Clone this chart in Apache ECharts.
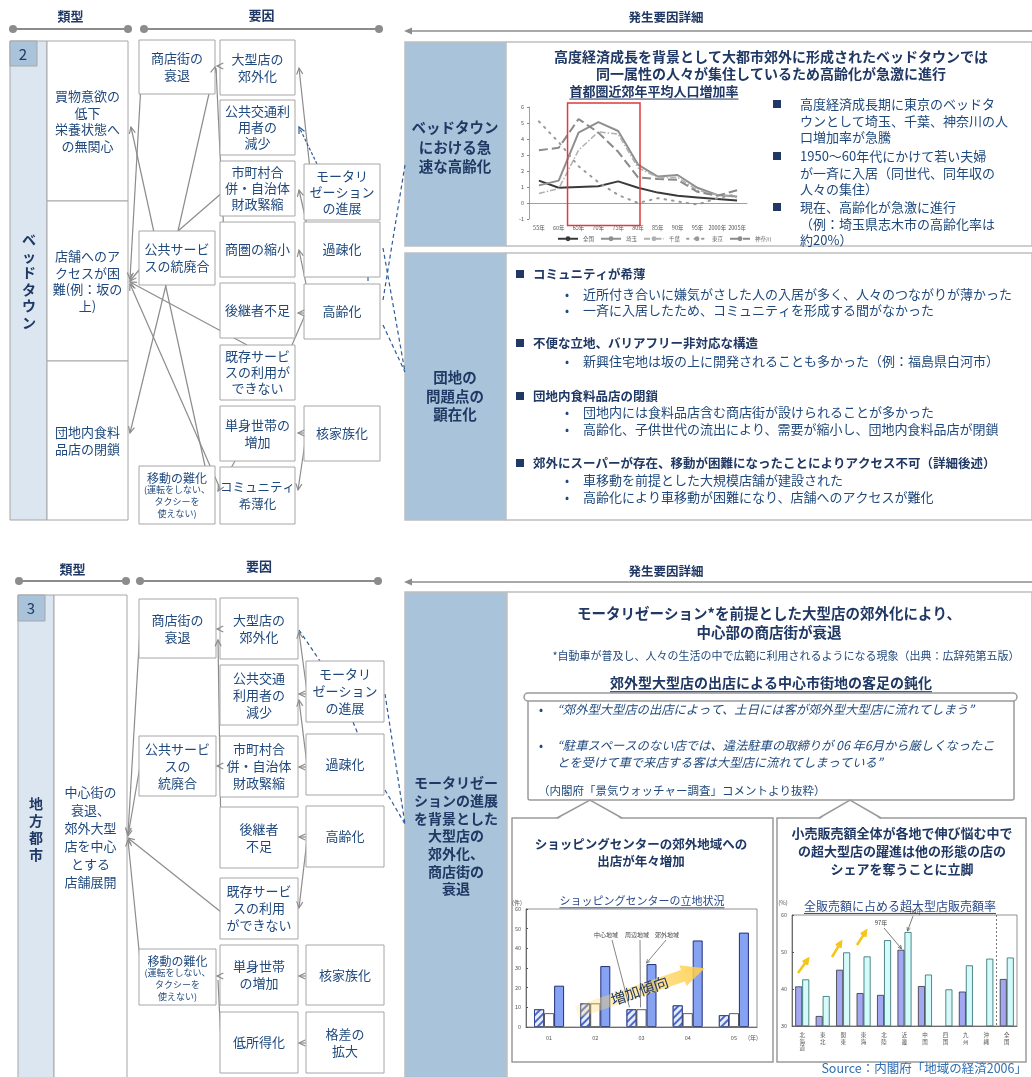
<!DOCTYPE html>
<html><head><meta charset="utf-8">
<script src="https://cdn.jsdelivr.net/npm/echarts@6/dist/echarts.min.js"></script>
<style>html,body{margin:0;padding:0;background:#fff}#c{width:1032px;height:1077px}</style>
</head><body><div id="c"></div>
<script>
// ---------------- DATA ----------------
const lineYears = ['55年','60年','65年','70年','75年','80年','85年','90年','95年','2000年','2005年'];
const popZenkoku  = [1.4,0.95,1.0,1.05,1.35,0.95,0.65,0.45,0.35,0.25,0.15];
const popSaitama  = [1.1,1.4,4.4,5.05,4.5,2.4,1.65,1.75,0.95,0.5,0.4];
const popChiba    = [0.6,0.9,3.3,4.45,4.3,2.2,1.6,1.6,0.8,0.5,0.35];
const popTokyo    = [5.1,3.8,2.3,1.3,0.5,0.0,0.3,0.1,-0.1,0.3,0.55];
const popKanagawa = [3.3,3.45,5.25,4.4,3.2,1.6,1.5,1.45,0.7,0.45,0.8];
const lineNames = ['全国','埼玉','千葉','東京','神奈川'];

const scYears   = ['01','02','03','04','05'];
const scCenter  = [9,12,9,11,6];
const scPeriph  = [7,12,9,7,7];
const scSuburb  = [21,31,32,44,48];
const scNames   = ['中心地域','周辺地域','郊外地域'];

const regions    = ['北海道','東北','関東','東海','北陸','近畿','中国','四国','九州','沖縄','全国'];
const shareEarly = [40.7,32.7,45.2,38.9,38.4,50.6,40.8,null,39.3,null,42.7];
const shareLate  = [42.6,38.1,49.9,48.8,53.2,55.4,43.9,39.9,46.4,48.2,48.5];
const shareNames = ['97年','04年'];

// ---------------- STYLE ----------------
const F = '"Noto Sans CJK JP","Noto Sans CJK SC",sans-serif';
const NAVY = '#1F3864', TXT = '#1F497D', GR = '#8C8C8C', BOX = '#A6A6A6';
const LBL = '#A9C4DA', LIGHT = '#DCE6F0', BLUE = '#2E5C9A';
function font(s,b,i){return (i?'italic ':'')+(b?'bold ':'')+s+'px '+F;}
const mctx = document.createElement('canvas').getContext('2d');
function tw(t,f){mctx.font=f;return mctx.measureText(t).width;}

const chart = echarts.init(document.getElementById('c'));
const axLbl = {fontSize:5.5,color:'#555',fontFamily:F};
const ZA = 8;
chart.setOption({
  animation:false, backgroundColor:'#fff',
  grid:[
    {left:529,top:107,width:218,height:112,z:ZA},
    {left:526,top:909,width:231,height:118,show:true,borderColor:'#777',borderWidth:0.8,backgroundColor:'transparent',z:ZA},
    {left:792,top:915,width:225,height:111,show:true,borderColor:'#777',borderWidth:0.8,backgroundColor:'transparent',z:ZA}
  ],
  xAxis:[
    {gridIndex:0,z:ZA,type:'category',data:lineYears,axisLine:{onZero:true,lineStyle:{color:'#888',width:0.8}},axisTick:{show:false},axisLabel:Object.assign({interval:0,margin:6},axLbl)},
    {gridIndex:1,z:ZA,type:'category',data:scYears,axisLine:{lineStyle:{color:'#555',width:0.8}},axisTick:{show:false},axisLabel:Object.assign({interval:0,margin:8,fontSize:6},axLbl)},
    {gridIndex:2,z:ZA,type:'category',data:regions,axisLine:{lineStyle:{color:'#555',width:0.8}},axisTick:{show:false},axisLabel:Object.assign({interval:0,margin:6,lineHeight:6.5,verticalAlign:'top',formatter:v=>v.split('').join('\n')},axLbl)}
  ],
  yAxis:[
    {gridIndex:0,z:ZA,min:-1,max:6,interval:1,axisLine:{show:true,lineStyle:{color:'#888',width:0.8}},axisTick:{show:true,length:2},splitLine:{show:false},axisLabel:Object.assign({margin:5},axLbl)},
    {gridIndex:1,z:ZA,min:0,max:60,interval:10,axisLine:{show:true,lineStyle:{color:'#555',width:0.8}},axisTick:{show:true,inside:true,length:2},splitLine:{show:false},axisLabel:Object.assign({margin:5},axLbl)},
    {gridIndex:2,z:ZA,min:30,max:60,interval:10,axisLine:{show:true,lineStyle:{color:'#555',width:0.8}},axisTick:{show:true,inside:true,length:2},splitLine:{show:false},axisLabel:Object.assign({margin:5},axLbl)}
  ],
  legend:{data:lineNames,z:ZA,left:552,top:231,itemWidth:20,itemHeight:6,itemGap:6,textStyle:{fontSize:5.5,color:'#666',fontFamily:F}},
  series:[
    {name:lineNames[0],type:'line',data:popZenkoku,symbol:'none',z:7,lineStyle:{color:'#3a3a3a',width:2},itemStyle:{color:'#3a3a3a'}},
    {name:lineNames[1],type:'line',data:popSaitama,symbol:'none',z:7,lineStyle:{color:'#8f8f8f',width:2},itemStyle:{color:'#8f8f8f'}},
    {name:lineNames[2],type:'line',data:popChiba,symbol:'none',z:7,lineStyle:{color:'#b0b0b0',width:1.5,type:[6,2,1.5,2]},itemStyle:{color:'#b0b0b0'}},
    {name:lineNames[3],type:'line',data:popTokyo,symbol:'none',z:7,lineStyle:{color:'#9a9a9a',width:2,type:[1.5,6],cap:'round'},itemStyle:{color:'#9a9a9a'}},
    {name:lineNames[4],type:'line',data:popKanagawa,symbol:'none',z:7,lineStyle:{color:'#8a8a8a',width:2,type:[9,4]},itemStyle:{color:'#8a8a8a'}},
    {name:scNames[0],type:'bar',xAxisIndex:1,yAxisIndex:1,data:scCenter,barWidth:10,barGap:'0%',z:7,
      itemStyle:{color:'#e8edfb',borderColor:'#2b3f8c',borderWidth:0.8,decal:{symbol:'rect',symbolSize:1,dashArrayX:[1,0],dashArrayY:[1.2,2.4],rotation:-Math.PI/4,color:'#4a68c8'}}},
    {name:scNames[1],type:'bar',xAxisIndex:1,yAxisIndex:1,data:scPeriph,barWidth:10,barGap:'0%',z:7,itemStyle:{color:'#ffffff',borderColor:'#333',borderWidth:0.8}},
    {name:scNames[2],type:'bar',xAxisIndex:1,yAxisIndex:1,data:scSuburb,barWidth:10,barGap:'0%',z:7,itemStyle:{color:'#86a2f2',borderColor:'#22307a',borderWidth:1}},
    {name:shareNames[0],type:'bar',xAxisIndex:2,yAxisIndex:2,data:shareEarly,barWidth:7,barGap:'0%',z:7,itemStyle:{color:'#a3a6f0',borderColor:'#333',borderWidth:0.8}},
    {name:shareNames[1],type:'bar',xAxisIndex:2,yAxisIndex:2,data:shareLate,barWidth:7,barGap:'0%',z:7,itemStyle:{color:'#d5fafa',borderColor:'#2a6a6a',borderWidth:0.8}}
  ]
});

// ---------------- GRAPHICS ----------------
const G = [];
function T(x,y,t,o={}){G.push({type:'text',x,y,z:o.z??4,rotation:o.rot||0,silent:true,style:{text:t,fill:o.c||TXT,font:font(o.s||13,o.b,o.i),align:o.a||'center',verticalAlign:o.v||'middle',lineHeight:o.lh||Math.round((o.s||13)*1.3)}});}
function R(x1,y1,x2,y2,o={}){G.push({type:'rect',z:o.z??2,silent:true,shape:{x:x1,y:y1,width:x2-x1,height:y2-y1,r:o.r||0},style:{fill:o.f??'#fff',stroke:o.st??BOX,lineWidth:o.lw??1}});}
function L(x1,y1,x2,y2,o={}){G.push({type:'line',z:o.z??1,silent:true,shape:{x1,y1,x2,y2},style:{stroke:o.c||GR,lineWidth:o.lw||1.2,lineDash:o.d||null}});}
function AH(x1,y1,x2,y2,o={}){const d=Math.atan2(y2-y1,x2-x1),s=o.hs||7,p=0.45;
  G.push({type:'polyline',z:o.z??3,silent:true,shape:{points:[[x2-s*Math.cos(d-p),y2-s*Math.sin(d-p)],[x2,y2],[x2-s*Math.cos(d+p),y2-s*Math.sin(d+p)]]},style:{stroke:o.c||GR,lineWidth:o.lw||1.2,fill:null}});}
function A(x1,y1,x2,y2,o={}){L(x1,y1,x2,y2,o);AH(x1,y1,x2,y2,o);}
function D(x1,y1,x2,y2){L(x1,y1,x2,y2,{c:BLUE,lw:1.2,d:[4,3]});}
function B(x1,y1,x2,y2,t,o={}){R(x1,y1,x2,y2);T((x1+x2)/2,(y1+y2)/2,t,{s:o.s||13,lh:o.lh||17});}
function C(x,y){G.push({type:'circle',z:2,silent:true,shape:{cx:x,cy:y,r:4},style:{fill:GR}});}
function HDR(x1,x2,y,t,ty){L(x1,y,x2,y,{lw:2});C(x1,y);C(x2,y);T((x1+x2)/2,ty,t,{b:true,s:13,c:NAVY});}
function DET(y,ty){L(408,y,1032,y,{lw:1.5});G.push({type:'polygon',z:3,silent:true,shape:{points:[[404,y],[412,y-3.5],[412,y+3.5]]},style:{fill:GR}});T(666,ty,'発生要因詳細',{b:true,s:12.5,c:NAVY});}
function UL(x,y,t,s,b,c){const w=tw(t,font(s,b));T(x,y,t,{s,b,c});L(x-w/2,y+s*0.62,x+w/2,y+s*0.62,{c:c,lw:1,z:4});}
function MOVE(x1,y1,x2,y2){R(x1,y1,x2,y2);const cx=(x1+x2)/2;T(cx,y1+12,'移動の難化',{s:12});T(cx,y1+36,'(運転をしない、\nタクシーを\n使えない)',{s:9,lh:12});}

// ===== TOP SECTION =====
HDR(13,128,29,'類型',16);
HDR(144,379,29,'要因',15);
DET(31,17);
R(10,41,47,520,{f:LIGHT});
R(10,41,37,66,{f:LBL,z:3});
T(23,54,'2',{s:15,c:NAVY,z:4});
T(29,281,'ベ\nッ\nド\nタ\nウ\nン',{b:true,s:14,lh:16.5,c:NAVY});
B(47,41,128,201,'買物意欲の\n低下\n栄養状態へ\nの無関心',{lh:16.5});
B(47,201,128,361,'店舗へのア\nクセスが困\n難(例：坂の\n上)',{lh:16.5});
B(47,361,128,520,'団地内食料\n品店の閉鎖',{lh:17});
A(205,466,131,127);
A(142,66,130,279);
A(139,270,130,281);
A(247,345,130,282);
A(222,493,130,284);
A(166,285,130,433);
A(178,231,215,67);
L(223,192,178,231);
A(221,66,217,66);
L(224,236,216,68);
A(312,188,299,68);
A(317,164,299,127,{c:BLUE,d:[3,2]});
A(312,247,299,190);
A(312,313,299,250);
A(305,313,298,313);
L(305,315,292,345);
A(305,433,298,433);
A(306,436,298,490);
A(235,461,218,491);
D(383,300,405,165);
D(383,248,405,372);
D(383,325,405,372);
D(368,277,368,284);
B(139,40,215,94,'商店街の\n衰退');
B(139,231,215,285,'公共サービ\nスの統廃合');
MOVE(139,466,215,524);
B(220,40,295,95,'大型店の\n郊外化');
B(220,100,295,155,'公共交通利\n用者の\n減少',{lh:16});
B(220,161,295,216,'市町村合\n併・自治体\n財政緊縮',{lh:16});
B(220,222,295,277,'商圏の縮小');
B(220,283,295,338,'後継者不足');
B(220,345,295,400,'既存サービ\nスの利用が\nできない',{lh:16});
B(220,406,295,461,'単身世帯の\n増加');
B(220,467,295,524,'コミュニティ\n希薄化',{s:12.5});
B(304,164,380,220,'モータリ\nゼーション\nの進展',{lh:16});
B(304,222,380,277,'過疎化');
B(304,284,380,339,'高齢化');
B(304,406,380,461,'核家族化');

R(405,42,506,246,{f:LBL,st:'#bfbfbf',lw:1.5,z:0});
R(506,42,1032,246,{st:'#bfbfbf',lw:1.5,z:0});
T(455,147,'ベッドタウン\nにおける急\n速な高齢化',{b:true,s:14.5,lh:19.5,c:NAVY});
T(771,57,'高度経済成長を背景として大都市郊外に形成されたベッドタウンでは',{b:true,s:14,c:NAVY});
T(771,74,'同一属性の人々が集住しているため高齢化が急激に進行',{b:true,s:14,c:NAVY});
UL(654,91,'首都圏近郊年平均人口増加率',13,true,NAVY);
[[104,'高度経済成長期に東京のベッドタ\nウンとして埼玉、千葉、神奈川の人\n口増加率が急騰'],
 [156,'1950～60年代にかけて若い夫婦\nが一斉に入居（同世代、同年収の\n人々の集住）'],
 [207,'現在、高齢化が急激に進行\n（例：埼玉県志木市の高齢化率は\n約20%）']].forEach(([y,t])=>{
  T(777,y,'■',{s:10,c:NAVY});
  T(800,y-8,t,{s:13,a:'left',v:'top',lh:16.6});
});
R(405,253,506,520,{f:LBL,st:'#bfbfbf',lw:1.5,z:0});
R(506,253,1032,520,{st:'#bfbfbf',lw:1.5,z:0});
T(455,396,'団地の\n問題点の\n顕在化',{b:true,s:14.5,lh:18.5,c:NAVY});
[[274,'コミュニティが希薄',[[294,'近所付き合いに嫌気がさした人の入居が多く、人々のつながりが薄かった'],[310,'一斉に入居したため、コミュニティを形成する間がなかった']]],
 [343,'不便な立地、バリアフリー非対応な構造',[[361,'新興住宅地は坂の上に開発されることも多かった（例：福島県白河市）']]],
 [396,'団地内食料品店の閉鎖',[[412,'団地内には食料品店含む商店街が設けられることが多かった'],[429,'高齢化、子供世代の流出により、需要が縮小し、団地内食料品店が閉鎖']]],
 [463,'郊外にスーパーが存在、移動が困難になったことによりアクセス不可（詳細後述）',[[480,'車移動を前提とした大規模店舗が建設された'],[497,'高齢化により車移動が困難になり、店舗へのアクセスが難化']]]
].forEach(([y,h,items])=>{
  T(520,y,'■',{s:10,c:NAVY});
  T(533,y,h,{s:12.5,b:true,a:'left',c:NAVY});
  items.forEach(([yy,t])=>{T(567,yy,'•',{s:12});T(583,yy,t,{s:13,a:'left'});});
});

const p65 = chart.convertToPixel({gridIndex:0},['65年',6.25]);
const p80 = chart.convertToPixel({gridIndex:0},['80年',-1.4]);
G.push({type:'rect',z:10,silent:true,shape:{x:p65[0]-11,y:p65[1],width:p80[0]+2-(p65[0]-11),height:p80[1]-p65[1]},style:{fill:null,stroke:'#E03A3A',lineWidth:1.5}});

// ===== BOTTOM SECTION =====
HDR(19,126,581,'類型',569);
HDR(140,378,581,'要因',566);
DET(582,571);
R(18,595,54,1080,{f:LIGHT});
R(18,595,45,621,{f:LBL,z:3});
T(31,608,'3',{s:15,c:NAVY,z:4});
T(36,829,'地\n方\n都\n市',{b:true,s:14,lh:17,c:NAVY});
B(54,595,127,1080,'中心街の\n衰退、\n郊外大型\n店を中心\nとする\n店舗展開',{lh:18});
A(140,629,128,834);
A(140,766,128,836);
A(221,912,128,838);
A(140,960,128,840);
A(221,629,217,629);
A(221,838,218,640);
A(221,766,217,766);
A(221,976,217,976);
L(221,1043,218,980);
A(307,692,299,632);
A(307,694,299,694);
A(307,765,299,700);
A(307,767,299,767);
A(307,837,299,837);
A(307,840,299,908);
A(307,976,299,976);
A(307,1043,299,1043);
D(299,630,320,661);
D(353,722,358,734);
D(385,694,405,824);
D(385,790,405,824);
B(139,599,216,658,'商店街の\n衰退');
B(139,736,216,796,'公共サービ\nスの\n統廃合');
MOVE(139,949,216,1005);
B(220,598,298,659,'大型店の\n郊外化');
B(220,665,298,725,'公共交通\n利用者の\n減少');
B(220,736,298,797,'市町村合\n併・自治体\n財政緊縮');
B(220,807,298,868,'後継者\n不足');
B(220,878,298,939,'既存サービ\nスの利用\nができない');
B(220,945,298,1005,'単身世帯\nの増加');
B(220,1012,298,1073,'低所得化');
B(306,661,384,722,'モータリ\nゼーション\nの進展');
B(306,734,384,795,'過疎化');
B(306,806,384,867,'高齢化');
B(306,945,384,1005,'核家族化');
B(306,1012,384,1073,'格差の\n拡大');

R(405,592,507,1080,{f:LBL,st:'#bfbfbf',lw:1.5,z:0});
R(507,592,1032,1080,{st:'#bfbfbf',lw:1.5,z:0});
T(456,836,'モータリゼー\nションの進展\nを背景とした\n大型店の\n郊外化、\n商店街の\n衰退',{b:true,s:14,lh:17.7,c:NAVY});
T(769,613,'モータリゼーション*を前提とした大型店の郊外化により、',{b:true,s:14.5,c:NAVY});
T(769,632,'中心部の商店街が衰退',{b:true,s:14.5,c:NAVY});
T(786,656,'*自動車が普及し、人々の生活の中で広範に利用されるようになる現象（出典：広辞苑第五版）',{s:11});
UL(771,683,'郊外型大型店の出店による中心市街地の客足の鈍化',14,true,NAVY);
R(528,698,1014,800,{st:'#9a9a9a',lw:1.5,r:2,z:1});
R(524,693,1017,701,{st:'#9a9a9a',lw:1.5,r:4,z:2});
T(541,709,'•',{s:12});
T(557,709,'“郊外型大型店の出店によって、土日には客が郊外型大型店に流れてしまう”',{s:12.3,i:true,a:'left'});
T(541,745,'•',{s:12});
T(557,745,'“駐車スペースのない店では、違法駐車の取締りが 06 年6月から厳しくなったこ',{s:12.3,i:true,a:'left'});
T(557,762,'とを受けて車で来店する客は大型店に流れてしまっている”',{s:12.3,i:true,a:'left'});
T(538,791,'（内閣府「景気ウォッチャー調査」コメントより抜粋）',{s:11.5,a:'left'});
R(512,818,773,1062,{st:'#9a9a9a',lw:1.5,z:1});
R(777,818,1026,1062,{st:'#9a9a9a',lw:1.5,z:1});
[[557,590,622],[819,850,881]].forEach(([a,b,c])=>{
  G.push({type:'polygon',z:2,silent:true,shape:{points:[[a,819.5],[b,800],[c,819.5]]},style:{fill:'#fff',stroke:null}});
  G.push({type:'polyline',z:3,silent:true,shape:{points:[[a,818],[b,800],[c,818]]},style:{stroke:'#9a9a9a',lineWidth:1.5,fill:null}});
});
T(641,853,'ショッピングセンターの郊外地域への\n出店が年々増加',{b:true,s:12.5,lh:17,c:NAVY});
T(902,851,'小売販売額全体が各地で伸び悩む中で\nの超大型店の躍進は他の形態の店の\nシェアを奪うことに立脚',{b:true,s:13,lh:18,c:NAVY});

UL(642,901,'ショッピングセンターの立地状況',11,false,'#2B4A8A');
T(517,903,'(件)',{s:6,c:'#555'});
T(753,1038,'(年)',{s:6,c:'#555'});
const c3 = chart.convertToPixel({gridIndex:1},['03',scCenter[2]]);
const c3b = chart.convertToPixel({gridIndex:1},['03',scPeriph[2]]);
const c3c = chart.convertToPixel({gridIndex:1},['03',scSuburb[2]]);
T(606,935,'中心地域',{s:6,c:'#444',z:10});
T(637,935,'周辺地域',{s:6,c:'#444',z:10});
T(667,935,'郊外地域',{s:6,c:'#444',z:10});
L(612,940,c3[0]-12,c3[1]-2,{c:'#666',lw:0.8,z:10});
L(640,940,c3b[0]-1,c3b[1]-2,{c:'#666',lw:0.8,z:10});
A(666,940,c3c[0]+5,c3c[1]-1,{c:'#666',lw:0.8,z:10,hs:4});
G.push({type:'group',x:577,y:1012,rotation:0.33,z:9,children:[
  {type:'polygon',z:9,silent:true,shape:{points:[[0,-6],[112,-6],[112,-11],[135,0],[112,11],[112,6],[0,6]]},
   style:{fill:new echarts.graphic.LinearGradient(0,0,1,0,[{offset:0,color:'rgba(255,220,110,0.25)'},{offset:1,color:'rgba(255,205,70,0.9)'}]),stroke:null}},
  {type:'text',z:10,silent:true,x:66,y:0,style:{text:'増加傾向',font:font(15,false),fill:NAVY,align:'center',verticalAlign:'middle'}}
]});

UL(900,906,'全販売額に占める超大型店販売額率',12,false,'#2B4A8A');
T(783,903,'(%)',{s:6,c:'#555'});
const pOk = chart.convertToPixel({gridIndex:2},['沖縄',60]);
const pAll = chart.convertToPixel({gridIndex:2},['全国',30]);
const xm = (pOk[0]+pAll[0])/2;
L(xm,pOk[1],xm,pAll[1],{c:'#555',lw:0.8,d:[2,2],z:10});
const kE = chart.convertToPixel({gridIndex:2},['近畿',shareEarly[5]]);
const kL = chart.convertToPixel({gridIndex:2},['近畿',shareLate[5]]);
T(881,923,shareNames[0],{s:6,c:'#444',z:10});
T(916,912,shareNames[1],{s:6,c:'#444',z:10});
A(884,928,kE[0]-3,kE[1]-1,{c:'#555',lw:0.8,z:10,hs:4});
A(913,916,kL[0]+3,kL[1]-1,{c:'#555',lw:0.8,z:10,hs:4});
[[798,973,808,959],[832,957,841,942],[857,945,866,931]].forEach(a=>A(a[0],a[1],a[2],a[3],{c:'#F5C518',lw:2.5,z:10,hs:6}));

T(1027,1068,'Source：内閣府「地域の経済2006」',{s:12.5,a:'right',c:'#2F6EB5',z:10});

chart.setOption({graphic:{elements:G}});
</script></body></html>
